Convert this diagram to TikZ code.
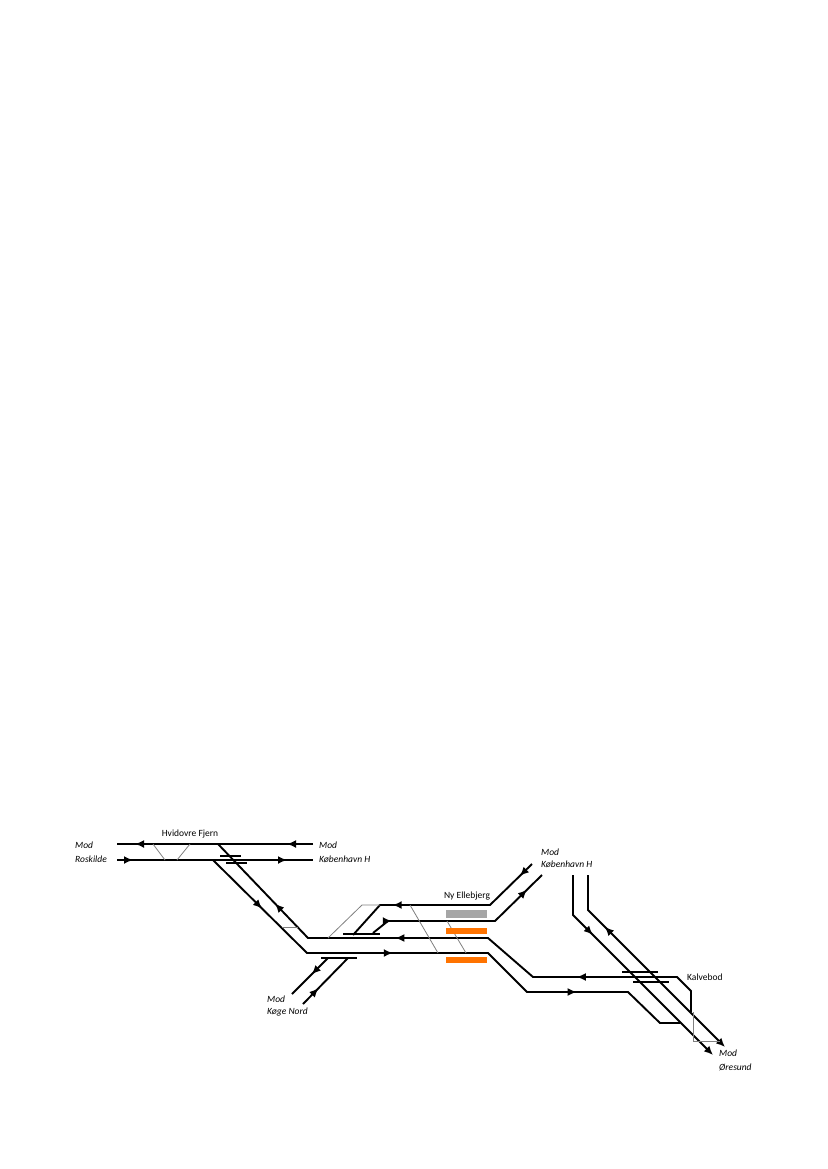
\documentclass[tikz,border=0pt]{standalone}
\usepackage{fontspec}
\setmainfont{Carlito}
\usetikzlibrary{arrows.meta,decorations.markings}

\tikzset{
  track/.style={line width=1.9pt},
  cross/.style={gray,line width=0.8pt},
  bar/.style={line width=1.5pt},
  mk/.style={postaction={decorate,decoration={markings,
      mark=at position #1 with {\arrow{Latex[length=9pt,width=8pt]}}}}},
  lbl/.style={font=\fontsize{9.5}{11}\selectfont,anchor=west,inner sep=0pt},
  modlbl/.style={lbl,font=\fontsize{9.5}{11}\selectfont\itshape},
}

\begin{document}
\begin{tikzpicture}[x=1pt,y=-1pt]
\useasboundingbox (0,0) rectangle (827,1169);

% Hvidovre Fjern
\coordinate (hvT1) at (117,844); \coordinate (hvT2) at (313,844);
\coordinate (hvB1) at (117,860); \coordinate (hvB2) at (313,860);
\draw[track,mk=26pt,mk=178pt] (hvT2) -- (hvT1);
\draw[track,mk=16pt,mk=170pt] (hvB1) -- (hvB2);
\draw[cross] (153,844) -- (165,860) (190,844) -- (177,860);
\draw[bar] (220,856) -- (241,856) (226,863) -- (247,863);
\node[lbl,anchor=center] (hvf) at (190,834) {Hvidovre Fjern};
\node[modlbl] (rosA) at (75,845) {Mod};
\node[modlbl] (rosB) at (75,859) {Roskilde};
\node[modlbl] (khA) at (319,845) {Mod};
\node[modlbl] (khB) at (319,859) {København H};

% through tracks
\coordinate (c0) at (691,1012); \coordinate (c1) at (691,991);
\coordinate (c2) at (677,977);  \coordinate (c3) at (533,977);
\coordinate (c4) at (488,938);  \coordinate (c5) at (308,938);
\coordinate (c6) at (218,844);
\draw[track,mk=141pt,mk=337pt,mk=472pt] (c0) -- (c1) -- (c2) -- (c3) -- (c4) -- (c5) -- (c6);
\coordinate (d0) at (213,860); \coordinate (d1) at (307,953);
\coordinate (d2) at (488,953); \coordinate (d3) at (527,992);
\coordinate (d4) at (628,992); \coordinate (d5) at (660,1023);
\coordinate (d6) at (680,1023);
\draw[track,mk=69pt,mk=218pt,mk=418pt] (d0) -- (d1) -- (d2) -- (d3) -- (d4) -- (d5) -- (d6);
\draw[cross] (282,927) -- (298,927);

% Ny Ellebjerg
\coordinate (a0) at (532,864); \coordinate (a1) at (490,905);
\coordinate (a2) at (380,905); \coordinate (a3) at (353,935);
\draw[track,mk=17pt,mk=156pt] (a0) -- (a1) -- (a2) -- (a3);
\coordinate (b0) at (373,933); \coordinate (b1) at (388,921);
\coordinate (b2) at (495,921); \coordinate (b3) at (542,875);
\draw[track,mk=23pt,mk=171pt] (b0) -- (b1) -- (b2) -- (b3);
\draw[cross] (328,938) -- (362,905) -- (a2);
\draw[cross] (410,905) -- (438,953) (447,921) -- (466,953);
\draw[bar] (343,934) -- (380,934);
\fill[gray!70] (446,910) rectangle (487,918);
\fill[orange!90!red] (446,928) rectangle (487,934);
\fill[orange!90!red] (446,957) rectangle (487,963);
\node[lbl,anchor=center] (nye) at (467,896) {Ny Ellebjerg};
\node[modlbl] (kh2A) at (541,852) {Mod};
\node[modlbl] (kh2B) at (541,864) {København H};

% Køge Nord
\draw[bar] (321,958) -- (357,958);
\coordinate (k1) at (328,958); \coordinate (k2) at (292,994);
\coordinate (k3) at (303,1004); \coordinate (k4) at (348,958);
\draw[track,mk=23pt] (k1) -- (k2);
\draw[track,mk=22pt] (k3) -- (k4);
\node[modlbl] (kgA) at (267,999) {Mod};
\node[modlbl] (kgB) at (267,1012) {Køge Nord};

% Kalvebod
\coordinate (e0) at (573,875); \coordinate (e1) at (573,915); \coordinate (e2) at (713,1055);
\draw[track,mk=68pt,-{Latex[length=9pt,width=8pt]}] (e0) -- (e1) -- (e2);
\coordinate (f0) at (725,1047); \coordinate (f1) at (588,910); \coordinate (f2) at (588,875);
\draw[track,mk=170pt,{Latex[length=9pt,width=8pt]}-] (f0) -- (f1) -- (f2);
\draw[bar] (622,972) -- (658,972) (633,982) -- (669,982);
\draw[cross] (693,1012) -- (693,1041) -- (720,1041);
\node[lbl] (kal) at (687,977) {Kalvebod};
\node[modlbl] (oeA) at (719,1053) {Mod};
\node[modlbl] (oeB) at (719,1067) {Øresund};
\end{tikzpicture}
\end{document}
